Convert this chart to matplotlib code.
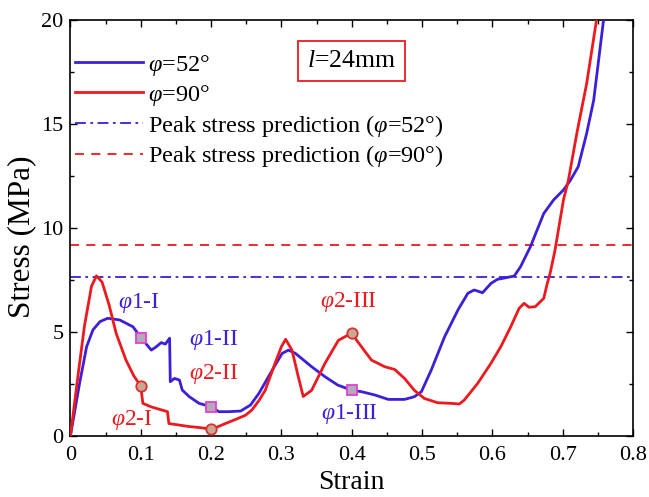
import matplotlib
matplotlib.use("Agg")
import matplotlib.pyplot as plt
from matplotlib.ticker import MultipleLocator

plt.rcParams['font.family'] = ['Liberation Serif', 'DejaVu Serif']
plt.rcParams['mathtext.fontset'] = 'custom'
plt.rcParams['mathtext.rm'] = 'Liberation Serif'
plt.rcParams['mathtext.it'] = 'Liberation Serif:italic'

BLUE = '#3d1fd9'
RED = '#ec1a1f'

# phi = 52 deg curve
strain_52 = [0, 0.013, 0.023, 0.032, 0.042, 0.053, 0.07, 0.089, 0.1, 0.103, 0.115,
             0.122, 0.129, 0.135, 0.141, 0.142, 0.148, 0.155, 0.159, 0.169, 0.183,
             0.2, 0.211, 0.225, 0.242, 0.256, 0.268, 0.287, 0.301, 0.31, 0.32,
             0.343, 0.362, 0.38, 0.4, 0.414, 0.433, 0.452, 0.475, 0.489, 0.499,
             0.513, 0.532, 0.551, 0.565, 0.574, 0.586, 0.598, 0.607, 0.631, 0.64,
             0.654, 0.673, 0.687, 0.701, 0.711, 0.722, 0.734, 0.744, 0.758]
stress_52 = [0, 2.53, 4.29, 5.1, 5.5, 5.66, 5.58, 5.25, 4.75, 4.62, 4.13,
             4.29, 4.49, 4.42, 4.7, 2.61, 2.77, 2.69, 2.21, 1.89, 1.57,
             1.41, 1.17, 1.17, 1.2, 1.49, 2.05, 3.17, 3.97, 4.13, 3.97,
             3.33, 2.85, 2.45, 2.2, 2.13, 1.97, 1.76, 1.76, 1.89, 2.13,
             3.17, 4.77, 6.06, 6.86, 7.02, 6.89, 7.34, 7.53, 7.69, 8.14,
             9.1, 10.7, 11.35, 11.83, 12.3, 12.95, 14.55, 16.15, 20.0]

# phi = 90 deg curve
strain_90 = [0, 0.01, 0.02, 0.03, 0.037, 0.045, 0.055, 0.065, 0.079, 0.09, 0.1,
             0.103, 0.115, 0.125, 0.138, 0.14, 0.15, 0.16, 0.17, 0.18, 0.19, 0.2,
             0.21, 0.221, 0.235, 0.249, 0.258, 0.268, 0.277, 0.291, 0.3, 0.306,
             0.315, 0.324, 0.331, 0.343, 0.362, 0.381, 0.4, 0.407, 0.428, 0.447,
             0.461, 0.475, 0.489, 0.503, 0.522, 0.541, 0.553, 0.56, 0.579, 0.598,
             0.612, 0.626, 0.638, 0.645, 0.652, 0.661, 0.673, 0.678, 0.682, 0.689,
             0.701, 0.708, 0.72, 0.734, 0.748]
stress_90 = [0, 2.7, 5.3, 7.2, 7.7, 7.4, 6.3, 4.94, 3.65, 2.9, 2.4,
             1.57, 1.4, 1.3, 1.17, 0.6, 0.55, 0.5, 0.45, 0.42, 0.38, 0.32,
             0.45, 0.61, 0.8, 1.0, 1.25, 1.7, 2.2, 3.5, 4.3, 4.65,
             4.13, 2.85, 1.9, 2.2, 3.5, 4.6, 4.95, 4.6, 3.65, 3.33,
             3.2, 2.77, 2.2, 1.81, 1.6, 1.57, 1.54, 1.73, 2.53, 3.5,
             4.3, 5.25, 6.14, 6.38, 6.19, 6.22, 6.62, 7.34, 7.82, 8.94,
             11.35, 12.3, 14.55, 16.95, 20.0]

# predicted peak stresses
peak_52 = 7.65
peak_90 = 9.2

# stage markers
mark_strain = [0.1, 0.2, 0.4]
mark_stress_52 = [4.7, 1.41, 2.2]
mark_stress_90 = [2.4, 0.32, 4.95]

fig = plt.figure(figsize=(6.49, 4.97), dpi=100)
ax = fig.add_axes([0.1085, 0.1227, 0.867, 0.8371])

ax.plot(strain_52, stress_52, color=BLUE, lw=2.0, label=r'$\varphi$=52°', zorder=3)
ax.plot(strain_90, stress_90, color=RED, lw=2.0, label=r'$\varphi$=90°', zorder=3)
ax.axhline(peak_52, color=BLUE, lw=1.3, ls=(0, (6, 2.5, 1.5, 2.5)),
           label=r'Peak stress prediction ($\varphi$=52°)', zorder=2)
ax.axhline(peak_90, color=RED, lw=1.3, ls=(0, (5, 4)),
           label=r'Peak stress prediction ($\varphi$=90°)', zorder=2)

ax.plot(mark_strain, mark_stress_52, ls='none', marker='s', ms=7.5,
        mfc='#b4a9b8', mec='#e040d0', mew=1.3, zorder=4)
ax.plot(mark_strain, mark_stress_90, ls='none', marker='o', ms=7.5,
        mfc='#c9a795', mec='#d8302a', mew=1.3, zorder=4)

ann_fs = 17
ax.text(0.098, 6.4, r'$\varphi$1-I', color=BLUE, fontsize=ann_fs, ha='center', va='center')
ax.text(0.203, 4.62, r'$\varphi$1-II', color=BLUE, fontsize=ann_fs, ha='center', va='center')
ax.text(0.397, 1.05, r'$\varphi$1-III', color=BLUE, fontsize=ann_fs, ha='center', va='center')
ax.text(0.087, 0.75, r'$\varphi$2-I', color=RED, fontsize=ann_fs, ha='center', va='center')
ax.text(0.204, 3.0, r'$\varphi$2-II', color=RED, fontsize=ann_fs, ha='center', va='center')
ax.text(0.395, 6.45, r'$\varphi$2-III', color=RED, fontsize=ann_fs, ha='center', va='center')

ax.text(0.399, 18.05, r'$l$=24mm', fontsize=18.5, ha='center', va='center',
        bbox=dict(boxstyle='square,pad=0.35', fc='white', ec=RED, lw=1.3))

ax.set_xlim(0, 0.8)
ax.set_ylim(0, 20)
ax.xaxis.set_minor_locator(MultipleLocator(0.05))
ax.yaxis.set_major_locator(MultipleLocator(5))
ax.yaxis.set_minor_locator(MultipleLocator(2.5))
ax.set_xticks([0, 0.1, 0.2, 0.3, 0.4, 0.5, 0.6, 0.7, 0.8])
ax.set_xticklabels(['0', '0.1', '0.2', '0.3', '0.4', '0.5', '0.6', '0.7', '0.8'])
ax.tick_params(which='both', direction='in', top=True, right=True, labelsize=16)
ax.tick_params(which='major', length=5, width=1)
ax.tick_params(axis='x', which='major', pad=7)
ax.tick_params(axis='y', which='major', pad=5)
ax.tick_params(which='minor', length=3, width=1)
for s in ax.spines.values():
    s.set_linewidth(1.2)

ax.set_xlabel('Strain', fontsize=20, labelpad=4)
ax.set_ylabel('Stress (MPa)', fontsize=22.5, va='center')
ax.yaxis.set_label_coords(-0.087, 0.478)

ax.legend(loc='upper left', bbox_to_anchor=(-0.022, 0.962), frameon=False,
          fontsize=17.5, handlelength=2.8, handletextpad=0.2, labelspacing=0.2,
          borderaxespad=0.3)

fig.savefig('out.png', dpi=100)
